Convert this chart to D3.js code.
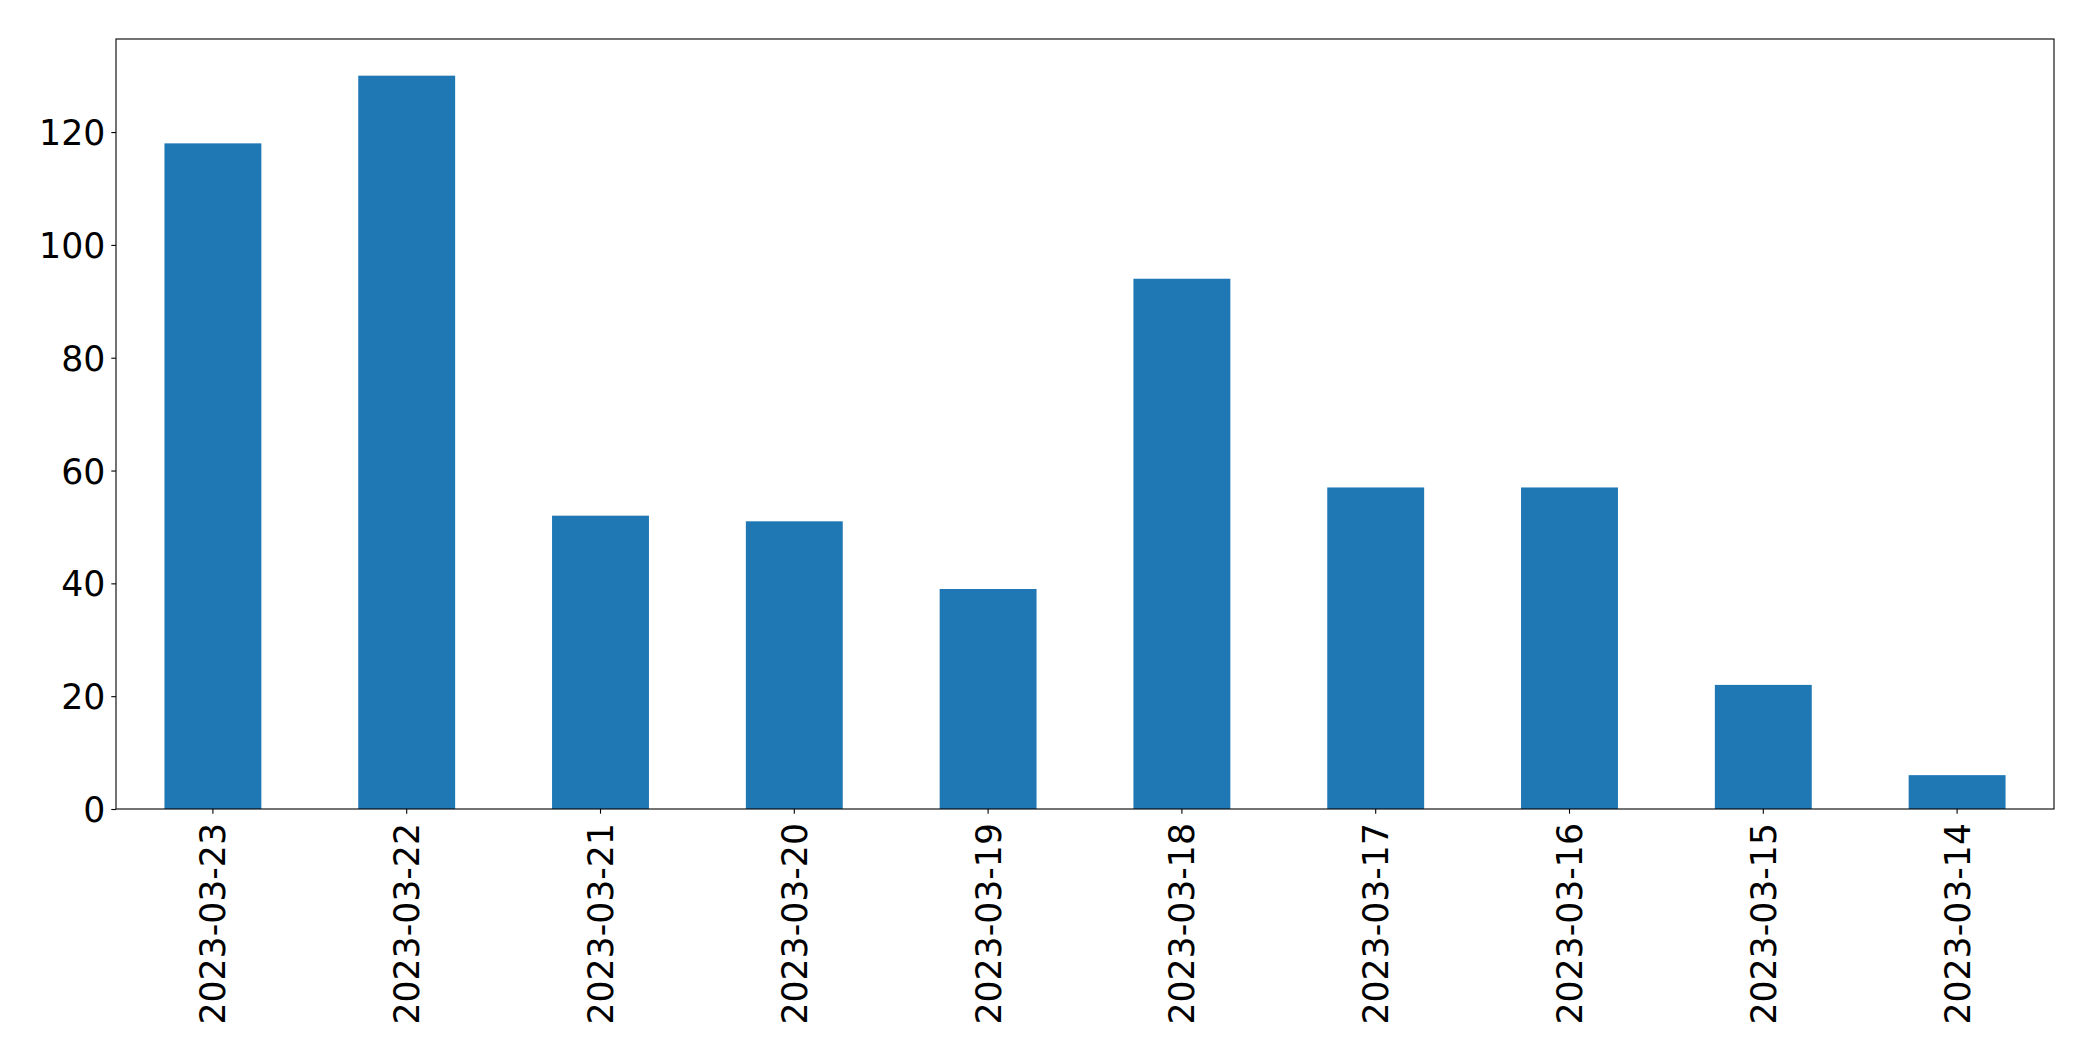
<!DOCTYPE html>
<html>
<head>
<meta charset="utf-8">
<script src="https://cdn.jsdelivr.net/npm/d3@7"></script>
<style>
  body { margin: 0; background: #fff; }
  svg { display: block; }
  .tick text { font-family: "DejaVu Sans", sans-serif; font-size: 34.7px; fill: #000; }
  .domain, .tick line { stroke: #000; stroke-width: 1.1px; }
</style>
</head>
<body>
<div id="chart"></div>
<script>
var dates = ['2023-03-23', '2023-03-22', '2023-03-21', '2023-03-20', '2023-03-19',
             '2023-03-18', '2023-03-17', '2023-03-16', '2023-03-15', '2023-03-14']
var counts = [118, 130, 52, 51, 39, 94, 57, 57, 22, 6]
var yTicks = [0, 20, 40, 60, 80, 100, 120]

var W = 2093, H = 1061
var m = {top: 39, right: 39, bottom: 252, left: 116}
var iw = W - m.left - m.right, ih = H - m.top - m.bottom

var svg = d3.select('#chart').append('svg')
    .attr('width', W).attr('height', H)
var g = svg.append('g').attr('transform', 'translate(' + m.left + ',' + m.top + ')')

// band scale with padding so bar width is half a step, like pandas bar plots
var x = d3.scaleBand().domain(dates).range([0, iw]).paddingInner(0.5).paddingOuter(0.25)
var y = d3.scaleLinear().domain([0, d3.max(counts) * 1.05]).range([ih, 0])

g.selectAll('.bar')
  .data(counts)
  .enter()
  .append('rect')
  .attr('class', 'bar')
  .attr('x', (d, i) => x(dates[i]))
  .attr('width', x.bandwidth())
  .attr('y', d => y(d))
  .attr('height', d => ih - y(d))
  .attr('fill', '#1f77b4')

// frame
g.append('rect')
  .attr('width', iw).attr('height', ih)
  .attr('fill', 'none').attr('stroke', '#000').attr('stroke-width', 1.1)

var yAxis = g.append('g')
  .call(d3.axisLeft(y).tickValues(yTicks).tickSize(4.7).tickPadding(6))
yAxis.select('.domain').remove()
yAxis.selectAll('text').attr('dy', '0.36em')

var xAxis = g.append('g')
  .attr('transform', 'translate(0,' + ih + ')')
  .call(d3.axisBottom(x).tickSize(4.7).tickPadding(0))
xAxis.select('.domain').remove()
xAxis.selectAll('text')
  .attr('transform', 'rotate(-90)')
  .attr('text-anchor', 'end')
  .attr('x', -14)
  .attr('y', 0)
  .attr('dy', '0.36em')
</script>
</body>
</html>
